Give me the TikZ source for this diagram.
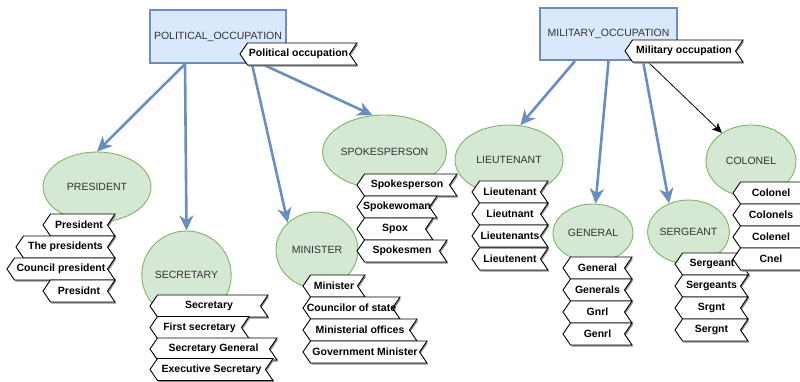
\documentclass[tikz,border=0pt]{standalone}
\usepackage{fontspec}
\setmainfont{Liberation Sans}
\usetikzlibrary{shapes.geometric,arrows.meta,shadows}

\definecolor{boxfill}{HTML}{DAE8FC}
\definecolor{boxline}{HTML}{6C8EBF}
\definecolor{ovalfill}{HTML}{D5E8D4}
\definecolor{ovalline}{HTML}{82B366}
\definecolor{inktext}{HTML}{333333}

\tikzset{
  concept/.style={rectangle, draw=boxline, fill=boxfill, line width=2pt,
    inner sep=0pt, text=inktext, font=\fontsize{10.5}{12}\selectfont},
  term/.style={ellipse, draw=ovalline, fill=ovalfill, line width=0.9pt,
    inner sep=0pt, text=inktext, font=\fontsize{10.5}{12}\selectfont},
  flagline/.style={draw=black, fill=white, line width=0.9pt,
    general shadow={fill=black!45, shadow xshift=1.2pt, shadow yshift=-1.5pt}},
  flagtext/.style={inner sep=0pt, text=black,
    font=\bfseries\fontsize{10.5}{12}\selectfont},
  link/.style={draw=boxline, line width=2.6pt,
    -{Stealth[length=15pt,width=14pt,inset=4.5pt]}},
  thinlink/.style={draw=black, line width=0.8pt,
    -{Stealth[length=10pt,width=9pt,inset=2.5pt]}},
}

% synonym tag: pointed on the left, notched on the right
% #1 name, #2 left x, #3 right x, #4 top y, #5 text
\newcommand\flagbox[5]{%
  \draw[flagline] (#2,#4+11) -- (#2+7.5,#4) -- (#3,#4) -- (#3-7.5,#4+11)
    -- (#3,#4+22) -- (#2+7.5,#4+22) -- cycle;
  \node[flagtext] (#1) at ({(#2+#3)/2},#4+11) {#5};
}

\begin{document}
\begin{tikzpicture}[x=1pt,y=-1pt]
  \useasboundingbox (0,0) rectangle (800,381);
  \fill[white] (0,0) rectangle (800,381);

  % top-level concepts
  \node[concept, minimum width=136pt, minimum height=53pt] (pol) at (218,36.5) {POLITICAL\_OCCUPATION};
  \node[concept, minimum width=137pt, minimum height=52pt] (mil) at (608.5,34) {MILITARY\_OCCUPATION};

  % occupation terms
  \node[term, minimum width=108pt, minimum height=70pt] (pres) at (97,187) {PRESIDENT};
  \node[term, minimum width=89pt, minimum height=88pt] (sec) at (186.5,275) {SECRETARY};
  \node[term, minimum width=82pt, minimum height=76pt] (mins) at (317,250) {MINISTER};
  \node[term, minimum width=111pt, minimum height=74pt] (spk) at (384.5,152) {SPOKESPERSON};
  \node[term, minimum width=108pt, minimum height=70pt] (lie) at (509,160) {LIEUTENANT};
  \node[term, minimum width=80pt, minimum height=58pt] (gen) at (593,233) {GENERAL};
  \node[term, minimum width=73pt, minimum height=64pt] (ser) at (688.5,232) {SERGEANT};
  \node[term, minimum width=90pt, minimum height=72pt] (col) at (751,161) {COLONEL};

  % hierarchy links
  \draw[link] ([xshift=-33pt]pol.south) -- (pres.north);
  \draw[link] ([xshift=-33pt]pol.south) -- (sec.north);
  \draw[link] ([xshift=34pt]pol.south) -- (mins.137);
  \draw[link] ([xshift=44pt]pol.south) -- (spk.108);
  \draw[link] ([xshift=-33.5pt]mil.south) -- (lie.72);
  \draw[link] (mil.south) -- (gen.85);
  \draw[link] ([xshift=34.5pt]mil.south) -- (ser.124);
  \draw[thinlink] ([xshift=38.5pt]mil.south) -- (col.136);

  % concept labels
  \flagbox{ptag}{240}{357}{43}{Political occupation}
  \flagbox{mtag}{625}{743}{40}{Military occupation}

  % president
  \flagbox{p1}{43}{115}{214}{President}
  \flagbox{p2}{16}{115}{236}{The presidents}
  \flagbox{p3}{7}{115}{258}{Council president}
  \flagbox{p4}{43}{115}{280}{Presidnt}

  % secretary
  \flagbox{s1}{150}{268}{295}{Secretary}
  \flagbox{s2}{150}{249}{316.5}{First secretary}
  \flagbox{s3}{150}{277}{338}{Secretary General}
  \flagbox{s4}{150}{273}{358.5}{Executive Secretary}

  % minister
  \flagbox{m1}{303}{365}{275}{Minister}
  \flagbox{m2}{303}{400}{297}{Councilor of state}
  \flagbox{m3}{303}{417}{319}{Ministerial offices}
  \flagbox{m4}{303}{427}{341}{Government Minister}

  % spokesperson
  \flagbox{k1}{357}{457}{174}{Spokesperson}
  \flagbox{k2}{357}{437}{196}{Spokewoman}
  \flagbox{k3}{357}{433}{218}{Spox}
  \flagbox{k4}{357}{447}{240}{Spokesmen}

  % lieutenant
  \flagbox{l1}{472}{548}{181}{Lieutenant}
  \flagbox{l2}{472}{548}{203}{Lieutnant}
  \flagbox{l3}{472}{548}{225}{Lieutenants}
  \flagbox{l4}{472}{548}{248}{Lieutenent}

  % general
  \flagbox{g1}{563}{632}{257}{General}
  \flagbox{g2}{563}{632}{279}{Generals}
  \flagbox{g3}{563}{632}{301}{Gnrl}
  \flagbox{g4}{563}{632}{323}{Genrl}

  % sergeant
  \flagbox{r1}{675}{749}{253}{Sergeant}
  \flagbox{r2}{675}{748}{275}{Sergeants}
  \flagbox{r3}{675}{748}{297}{Srgnt}
  \flagbox{r4}{675}{748}{319}{Sergnt}

  % colonel
  \flagbox{c1}{733}{809}{182}{Colonel}
  \flagbox{c2}{733}{809}{204}{Colonels}
  \flagbox{c3}{733}{809}{226}{Colenel}
  \flagbox{c4}{733}{809}{248}{Cnel}
\end{tikzpicture}
\end{document}
